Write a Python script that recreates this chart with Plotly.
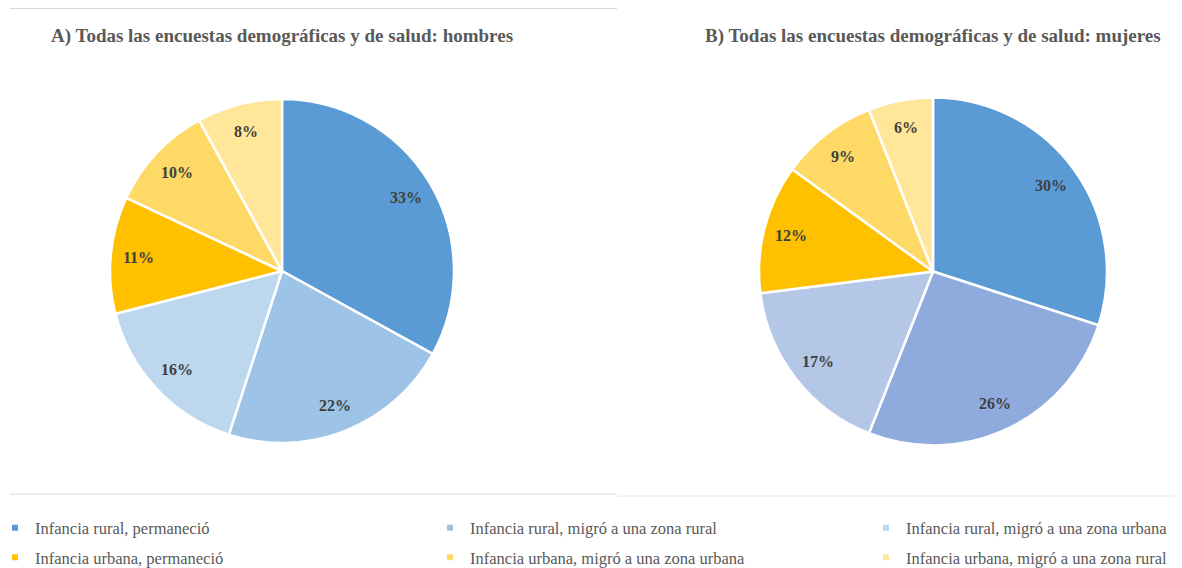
import math
import plotly.graph_objects as go

# The page places the figure 8 px from the window's top-left corner,
# so the figure is sized to fill the rest of the 1182x568 window.
OX, OY = 8, 8
W, H = 1182 - OX, 568 - OY


def fx(px):
    return (px - OX) / W


def fy(py):
    return 1 - (py - OY) / H


categories = [
    "Infancia rural, permaneció",
    "Infancia rural, migró a una zona rural",
    "Infancia rural, migró a una zona urbana",
    "Infancia urbana, permaneció",
    "Infancia urbana, migró a una zona urbana",
    "Infancia urbana, migró a una zona rural",
]
hombres = [33, 22, 16, 11, 10, 8]
mujeres = [30, 26, 17, 12, 9, 6]

colors_a = ["#5B9BD5", "#9DC3E6", "#BDD7EE", "#FFC000", "#FFD966", "#FFE699"]
colors_b = ["#5B9BD5", "#8FAADC", "#B4C7E7", "#FFC000", "#FFD966", "#FFE699"]

title_a = "A) Todas las encuestas demográficas y de salud: hombres"
title_b = "B) Todas las encuestas demográficas y de salud: mujeres"

SERIF = "Liberation Serif, Times New Roman, serif"
TXT = "#404040"
GREY = "#595959"

# pie geometry in window pixels (center x, center y from top, radius)
pies = [
    dict(vals=hombres, cols=colors_a, cx=282, cy=271, r=172, title=title_a),
    dict(vals=mujeres, cols=colors_b, cx=933, cy=271.5, r=174, title=title_b),
]

fig = go.Figure()
annotations = []
for p in pies:
    dom_x = [fx(p["cx"] - p["r"]), fx(p["cx"] + p["r"])]
    dom_y = [fy(p["cy"] + p["r"]), fy(p["cy"] - p["r"])]
    fig.add_trace(go.Pie(
        labels=categories, values=p["vals"], sort=False, direction="clockwise",
        rotation=0, marker=dict(colors=p["cols"], line=dict(color="white", width=2.5)),
        textinfo="none", showlegend=False, domain=dict(x=dom_x, y=dom_y),
        hoverinfo="label+value",
    ))
    # data labels placed near the outer part of each slice (Excel style)
    total = sum(p["vals"])
    cum = 0
    for v in p["vals"]:
        mid = (cum + v / 2) / total * 2 * math.pi
        cum += v
        rr = 0.84 * p["r"]
        px = p["cx"] + rr * math.sin(mid)
        py = p["cy"] - rr * math.cos(mid)
        annotations.append(dict(
            x=fx(px), y=fy(py), xref="paper", yref="paper",
            xanchor="center", yanchor="middle",
            text=f"<b>{v}%</b>", showarrow=False,
            font=dict(family=SERIF, size=16, color=TXT),
        ))
    annotations.append(dict(
        x=fx(p["cx"]), y=fy(36), xref="paper", yref="paper",
        xanchor="center", yanchor="middle",
        text=f"<b>{p['title']}</b>", showarrow=False,
        font=dict(family=SERIF, size=19, color=GREY),
    ))

# legend entries (small square markers), one legend per column
legend_names = ["legend", "legend2", "legend3"]
for i, (cat, col) in enumerate(zip(categories, colors_a)):
    fig.add_trace(go.Scatter(
        x=[None], y=[None], mode="markers", name=cat,
        marker=dict(symbol="square", size=6, color=col),
        legend=legend_names[i % 3], legendgroup=f"g{i}",
    ))

text_starts = [35, 470, 906]  # window px where legend text begins
legends = {}
for name, ts in zip(legend_names, text_starts):
    legends[name] = dict(
        orientation="v", xanchor="left", yanchor="middle",
        x=fx(ts - 40), y=fy(542.5),
        font=dict(family=SERIF, size=16.5, color=GREY),
        bgcolor="rgba(0,0,0,0)", tracegroupgap=5,
        itemclick=False, itemdoubleclick=False,
    )

line_col = "#D9D9D9"
shapes = [
    dict(type="line", xref="paper", yref="paper", x0=fx(10), x1=fx(617),
         y0=fy(8.5), y1=fy(8.5), line=dict(color=line_col, width=1)),
    dict(type="line", xref="paper", yref="paper", x0=fx(10), x1=fx(617),
         y0=fy(494), y1=fy(494), line=dict(color=line_col, width=1)),
    dict(type="line", xref="paper", yref="paper", x0=fx(617), x1=1,
         y0=fy(496), y1=fy(496), line=dict(color="#E6E6E6", width=1)),
]

fig.update_layout(
    width=W, height=H, margin=dict(l=0, r=0, t=0, b=0, autoexpand=False),
    paper_bgcolor="white", plot_bgcolor="white",
    xaxis=dict(visible=False), yaxis=dict(visible=False),
    annotations=annotations, shapes=shapes,
    **legends,
)

fig.write_html("out.html")
